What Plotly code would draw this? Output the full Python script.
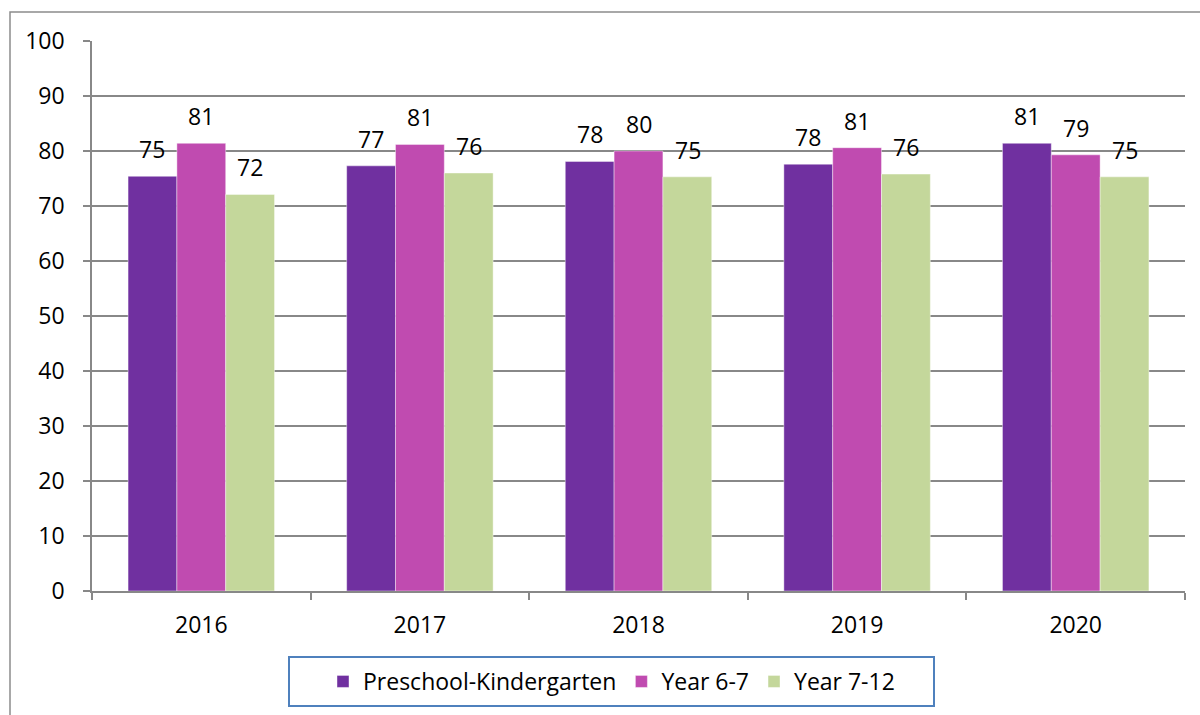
import plotly.graph_objects as go

years = ["2016", "2017", "2018", "2019", "2020"]
series_names = ["Preschool-Kindergarten", "Year 6-7", "Year 7-12"]
preschool = [75.4, 77.3, 78.1, 77.6, 81.4]
year_6_7 = [81.4, 81.2, 80.0, 80.6, 79.3]
year_7_12 = [72.1, 76.0, 75.3, 75.8, 75.3]
y_ticks = [0, 10, 20, 30, 40, 50, 60, 70, 80, 90, 100]

colors = ["#7030A0", "#C04BB0", "#C4D79B"]
FONT = "Open Sans"
GRID = "#888888"
FS = 23

# plot area in pixels: x 92..1185, y 41..591
PW, PH = 1093, 550


def px_x(x):
    return (x - 92) / PW


def px_y(y):
    return (591 - y) / PH


fig = go.Figure()
all_series = [preschool, year_6_7, year_7_12]
for name, vals, col in zip(series_names, all_series, colors):
    fig.add_trace(go.Bar(
        x=years, y=vals, name=name,
        marker=dict(color=col, line=dict(color="rgba(255,255,255,0.6)", width=0.7)),
        hoverinfo="x+y+name",
    ))

shifts = [-49, 0, 49]
annotations = []
for vals, xs in zip(all_series, shifts):
    for i, v in enumerate(vals):
        annotations.append(dict(
            x=i, y=v, xref="x", yref="y", text=str(int(v + 0.5)),
            showarrow=False, xshift=xs, yshift=27, yanchor="middle",
            font=dict(family=FONT, size=FS, color="#000000"),
        ))

fig.update_layout(
    width=1200, height=715,
    margin=dict(l=92, r=15, t=41, b=124),
    paper_bgcolor="white", plot_bgcolor="white",
    barmode="group", bargap=0.33, bargroupgap=0,
    font=dict(family=FONT, size=FS, color="#000000"),
    showlegend=True,
    legend=dict(
        orientation="h", x=px_x(611.5), xanchor="center", y=px_y(681.5), yanchor="middle",
        borderwidth=0, bgcolor="rgba(0,0,0,0)",
        font=dict(family=FONT, size=FS, color="#000000"),
        itemclick=False,
    ),
    annotations=annotations,
    shapes=[
        dict(
            type="rect", xref="paper", yref="paper",
            x0=px_x(10), x1=1.05, y0=-0.25, y1=px_y(12),
            line=dict(color="#8c8c8c", width=1.5), fillcolor="rgba(0,0,0,0)", layer="below",
        ),
        dict(
            type="rect", xref="paper", yref="paper",
            x0=px_x(289), x1=px_x(934), y0=px_y(706), y1=px_y(657),
            line=dict(color="#4F81BD", width=2), fillcolor="white", layer="below",
        ),
    ],
)

fig.update_xaxes(
    type="category", range=[-0.5, len(years) - 0.5], autorange=False,
    showline=True, linecolor=GRID, linewidth=1.5,
    ticks="outside", tickson="boundaries", ticklen=7, tickcolor=GRID, tickwidth=1.5,
    showgrid=False, ticklabelstandoff=13, tickangle=0,
    tickfont=dict(family=FONT, size=FS, color="#000000"),
)
fig.update_yaxes(
    range=[0, 100], tickvals=y_ticks, showline=True, linecolor=GRID, linewidth=1.5,
    ticks="outside", ticklen=7, tickcolor=GRID, tickwidth=1.5,
    showgrid=True, gridcolor=GRID, gridwidth=1.5, zeroline=False,
    ticklabelstandoff=14,
    tickfont=dict(family=FONT, size=FS, color="#000000"),
)

fig.write_html("out.html")
